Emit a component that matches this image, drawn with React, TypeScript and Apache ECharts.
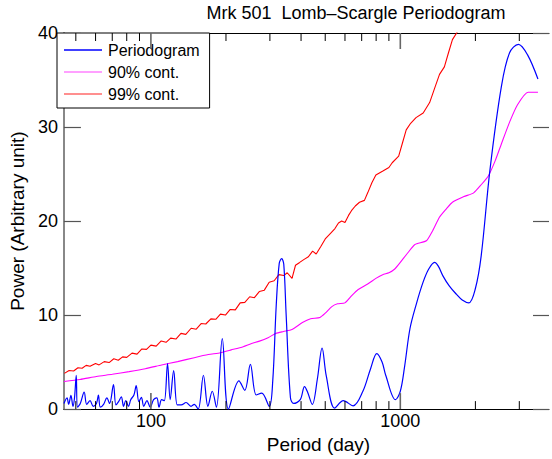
import React, { useEffect, useRef } from 'react';
import * as echarts from 'echarts';

// Periodogram (blue)
const pgPeriod = [44.8, 46.1, 46.8, 47.8, 48.7, 49.4, 50.2, 50.8, 52.1, 54.0, 55.3, 57.0, 58.7, 60.5, 61.6, 62.7, 64.6, 66.6, 68.3, 70.8, 72.4, 74.2, 76.1, 77.7, 79.3, 81.3, 83.0, 85.5, 87.3, 89.5, 91.6, 93.6, 96.4, 99.4, 102.5, 105.6, 107.8, 110.4, 113.2, 116.6, 119.5, 123.4, 127.6, 132.3, 138.4, 144.8, 149.2, 154.7, 162.4, 169.3, 176.2, 183.1, 193.3, 204.6, 225.4, 237.9, 250.5, 264.5, 278.2, 298.3, 308, 318, 327, 334.5, 341, 348.6, 362.7, 373.7, 397, 413, 425, 443.7, 465, 485.7, 505, 546, 590.8, 646.7, 707.8, 760, 805, 845, 874, 956, 1000, 1040, 1094, 1160, 1234, 1300, 1372, 1420, 1480, 1571, 1680, 1771, 1882, 1999, 2110, 2289, 2542, 2742, 2974, 3234, 3563];
const pgPower = [0.6, 1.2, 0.5, 1.45, 0.3, 1.2, 3.6, 0.2, 0.6, 1.8, 0.5, 0.9, 0.3, 0.6, 1.5, 0.2, 0.5, 1.2, 0.6, 2.6, 0.45, 0.8, 1.3, 0.3, 0.9, 0.3, 1.0, 1.5, 2.5, 0.8, 1.25, 0.3, 0.9, 0.2, 1.0, 1.2, 0.2, 1.0, 0.9, 4.85, 1.0, 4.1, 0.45, 0.45, 0.7, 0.3, 0.5, 0.0, 3.6, 0.3, 1.9, 0.2, 7.5, 0.0, 3.0, 2.0, 4.75, 1.5, 1.7, 0.3, 3.0, 11.0, 15.5, 16.0, 15.4, 10.0, 1.2, 0.6, 1.0, 2.4, 1.8, 0.5, 3.2, 6.5, 3.5, 0.1, 0.9, 0.35, 1.9, 4.3, 5.9, 5.0, 3.6, 1.0, 1.9, 4.5, 8.6, 11.2, 13.5, 14.9, 15.6, 15.2, 14.2, 13.1, 12.2, 11.6, 11.3, 12.8, 16.3, 25.5, 34.3, 37.9, 38.8, 37.7, 35.1];

// 90% confidence (magenta)
const c90Period = [44.8, 52, 60.5, 70, 81.8, 95, 110.4, 128, 149.2, 170, 190, 210, 234.4, 252, 272.5, 295, 316.8, 340, 368, 405, 437, 476, 500, 531.6, 560, 599.5, 640, 676, 740, 798, 850, 900, 950, 1000, 1070, 1145, 1272, 1350, 1435, 1530, 1618, 1800, 1968, 2100, 2254, 2400, 2542, 2750, 2955, 3254, 3563];
const c90Power = [2.93, 3.15, 3.46, 3.7, 3.99, 4.3, 4.69, 5.05, 5.47, 5.8, 6.0, 6.3, 6.64, 6.95, 7.23, 7.6, 8.04, 8.25, 8.47, 9.2, 9.6, 9.75, 10.2, 10.9, 11.2, 11.3, 12.1, 12.7, 13.3, 13.9, 14.3, 14.5, 14.9, 15.6, 16.6, 17.5, 17.9, 19.0, 20.4, 21.3, 22.0, 22.6, 23.0, 23.8, 24.8, 26.4, 28.2, 30.6, 32.4, 33.7, 33.7];

// 99% confidence (red)
const c99Period = [45, 47, 49, 51, 53, 55, 57, 60, 62, 65, 68, 71, 74, 77, 80, 84, 88, 92, 96, 100, 105, 110, 115, 120, 126, 132, 138, 145, 152, 159, 166, 174, 182, 190, 199, 208, 218, 228, 238, 249, 260, 272, 285, 298, 312, 326, 341, 352, 368, 380, 395, 410, 428, 445, 460, 480, 500, 525, 547, 565, 582, 600, 620, 637, 660, 686, 718, 740, 770, 798, 848, 900, 928, 985, 1020, 1056, 1100, 1156, 1235, 1311, 1380, 1436, 1502, 1560, 1618, 1700, 1800, 2000, 2500, 3600];
const c99Power = [3.8, 4.1, 4.05, 4.4, 4.35, 4.65, 4.55, 4.85, 4.7, 5.05, 4.95, 5.35, 5.2, 5.55, 5.5, 5.95, 5.85, 6.4, 6.35, 6.8, 6.7, 7.25, 7.1, 7.55, 7.45, 8.05, 7.95, 8.6, 8.5, 9.1, 9.05, 9.6, 9.55, 10.1, 10.0, 10.6, 10.55, 11.3, 11.35, 11.95, 11.85, 12.5, 12.65, 13.5, 13.65, 14.3, 14.2, 14.5, 13.9, 15.3, 15.6, 15.9, 16.2, 16.8, 16.5, 17.3, 18.1, 18.7, 19.2, 19.8, 20.0, 19.85, 20.6, 21.1, 21.6, 22.0, 22.2, 23.0, 24.1, 24.9, 25.3, 25.7, 26.2, 26.9, 28.3, 29.7, 30.4, 31.0, 31.5, 32.6, 34.3, 35.6, 36.4, 37.9, 39.3, 40.2, 40.6, 42, 45, 50];

const xMajorTicks = [100, 1000];
const xMinorTicks = [50, 60, 70, 80, 90, 200, 300, 400, 500, 600, 700, 800, 900, 2000, 3000];
const xMin = 44.8;
const xMax = 3946;
const yTicks = { min: 0, max: 40, interval: 10 };

const seriesNames = ['Periodogram', '90% cont.', '99% cont.'];
const titleText = 'Mrk 501  Lomb\u2013Scargle Periodogram';
const xName = 'Period (day)';
const yName = 'Power (Arbitrary unit)';

const FONT = 'Liberation Sans, Arial, Helvetica, sans-serif';

const zip = (a: number[], b: number[]) => a.map((v, i) => [v, b[i]]);

export default function App() {
  const ref = useRef<HTMLDivElement>(null);
  useEffect(() => {
    if (!ref.current) return;
    const chart = echarts.init(ref.current, null, { renderer: 'svg' });
    const tickData = [
      ...xMajorTicks.map((v) => [v, 1]),
      ...xMinorTicks.map((v) => [v, 0]),
    ];
    const option: any = {
      animation: false,
      backgroundColor: '#fff',
      textStyle: { fontFamily: FONT },
      grid: { left: 56, right: 0, top: 33, bottom: 48 },
      graphic: [
        {
          type: 'text',
          x: 356,
          y: 13,
          style: {
            text: titleText,
            textAlign: 'center',
            textVerticalAlign: 'middle',
            fontSize: 18,
            fontFamily: FONT,
            fill: '#000',
          },
        },
      ],
      legend: {
        orient: 'vertical',
        left: 57,
        top: 33,
        padding: [9, 10, 6, 7],
        itemGap: 6,
        itemWidth: 38,
        itemHeight: 1.5,
        borderColor: '#000',
        borderWidth: 1,
        borderRadius: 0,
        backgroundColor: '#fff',
        textStyle: { fontSize: 16, color: '#000', fontFamily: FONT, padding: [0, 0, 0, 1] },
        data: [
          { name: seriesNames[0], icon: 'rect', itemStyle: { color: '#0000ff' } },
          { name: seriesNames[1], icon: 'rect', itemStyle: { color: '#ff80ff' } },
          { name: seriesNames[2], icon: 'rect', itemStyle: { color: '#ff6a6a' } },
        ],
      },
      xAxis: [
        {
          type: 'log',
          logBase: 10,
          min: xMin,
          max: xMax,
          position: 'bottom',
          name: xName,
          nameLocation: 'middle',
          nameGap: 22,
          nameTextStyle: { fontSize: 19, color: '#000', fontFamily: FONT, padding: [0, 0, 0, 24] },
          axisLine: { show: true, onZero: false, lineStyle: { color: '#000', width: 1 } },
          axisTick: { show: false },
          splitLine: { show: false },
          minorTick: { show: false },
          axisLabel: {
            fontSize: 18,
            color: '#000',
            margin: 3,
            fontFamily: FONT,
            formatter: (v: number) => {
              const l = Math.log10(v);
              return Math.abs(l - Math.round(l)) < 1e-6 ? String(Math.round(v)) : '';
            },
          },
        },
        {
          type: 'log',
          logBase: 10,
          min: xMin,
          max: xMax,
          position: 'top',
          axisLine: { show: true, onZero: false, lineStyle: { color: '#000', width: 1 } },
          axisTick: { show: false },
          axisLabel: { show: false },
          splitLine: { show: false },
        },
      ],
      yAxis: [
        {
          type: 'value',
          min: yTicks.min,
          max: yTicks.max,
          interval: yTicks.interval,
          position: 'left',
          name: yName,
          nameLocation: 'middle',
          nameGap: 32,
          nameTextStyle: { fontSize: 19, color: '#000', fontFamily: FONT },
          axisLine: { show: true, onZero: false, lineStyle: { color: '#888', width: 2 } },
          axisTick: { show: true, inside: true, length: 17, lineStyle: { color: '#555', width: 1.2 } },
          axisLabel: { fontSize: 18, color: '#000', margin: 6, fontFamily: FONT },
          splitLine: { show: false },
        },
        {
          type: 'value',
          min: yTicks.min,
          max: yTicks.max,
          interval: yTicks.interval,
          position: 'right',
          axisLine: { show: false },
          axisTick: { show: true, inside: true, length: 16, lineStyle: { color: '#555', width: 1.2 } },
          axisLabel: { show: false },
          splitLine: { show: false },
        },
      ],
      series: [
        {
          name: seriesNames[2],
          type: 'line',
          data: zip(c99Period, c99Power),
          showSymbol: false,
          symbol: 'none',
          lineStyle: { color: '#ff0000', width: 1.1 },
          itemStyle: { color: '#ff0000' },
          clip: true,
          z: 3,
        },
        {
          name: seriesNames[1],
          type: 'line',
          data: zip(c90Period, c90Power),
          showSymbol: false,
          symbol: 'none',
          smooth: 0.2,
          lineStyle: { color: '#ff00ff', width: 1.1 },
          itemStyle: { color: '#ff00ff' },
          clip: true,
          z: 3,
        },
        {
          name: seriesNames[0],
          type: 'line',
          data: zip(pgPeriod, pgPower),
          showSymbol: false,
          symbol: 'none',
          smooth: 0.35,
          lineStyle: { color: '#0000ff', width: 1.2 },
          itemStyle: { color: '#0000ff' },
          clip: true,
          z: 4,
        },
        {
          type: 'custom',
          silent: true,
          data: tickData,
          z: 5,
          renderItem: (params: any, api: any) => {
            const v = api.value(0);
            const major = api.value(1) === 1;
            const b = api.coord([v, yTicks.min]);
            const t = api.coord([v, yTicks.max]);
            const len = major ? 16 : 8;
            const style = { stroke: major ? '#666' : '#000', lineWidth: major ? 1.6 : 1 };
            return {
              type: 'group',
              children: [
                { type: 'line', shape: { x1: b[0], y1: b[1], x2: b[0], y2: b[1] - len }, style },
                { type: 'line', shape: { x1: t[0], y1: t[1], x2: t[0], y2: t[1] + len }, style },
              ],
            };
          },
        },
      ],
    };
    chart.setOption(option);
    return () => chart.dispose();
  }, []);
  return (
    <div
      ref={ref}
      style={{ position: 'absolute', left: 0, top: 0, width: 552, height: 459 }}
    />
  );
}
